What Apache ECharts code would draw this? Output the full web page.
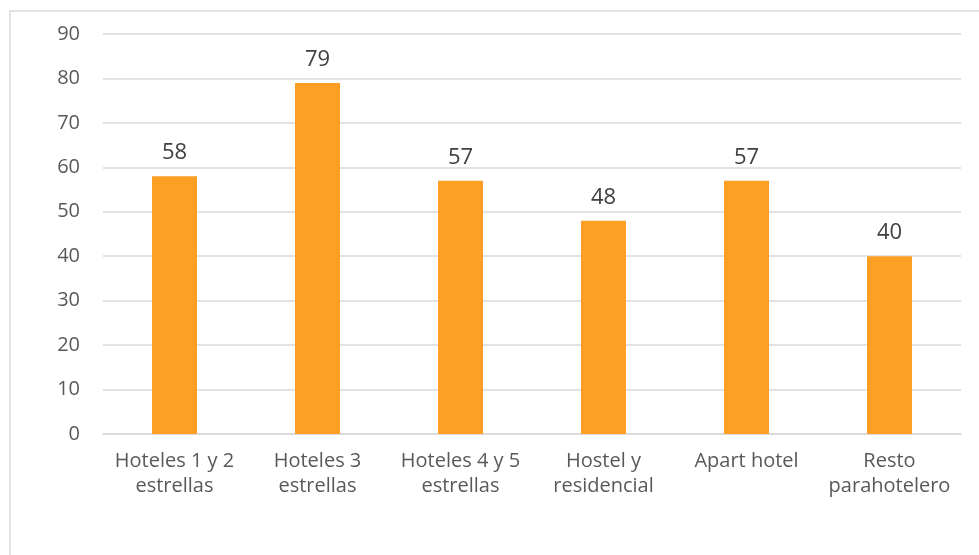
<!DOCTYPE html>
<html>
<head>
<meta charset="utf-8">
<script src="https://cdn.jsdelivr.net/npm/echarts@6/dist/echarts.min.js"></script>
<style>
html,body{margin:0;padding:0;background:#fff;}
#chart{width:979px;height:555px;}
</style>
</head>
<body>
<div id="chart"></div>
<script>
const categories = ["Hoteles 1 y 2\nestrellas", "Hoteles 3\nestrellas", "Hoteles 4 y 5\nestrellas", "Hostel y\nresidencial", "Apart hotel", "Resto\nparahotelero"];
const values = [58, 79, 57, 48, 57, 40];
const yMin = 0, yMax = 90, yStep = 10;

const chart = echarts.init(document.getElementById('chart'));
const font = '"Open Sans", "Noto Sans", sans-serif';
chart.setOption({
  animation: false,
  graphic: [{
    type: 'rect', z: -1,
    shape: { x: 10, y: 11, width: 1200, height: 800 },
    style: { fill: 'none', stroke: '#d9d9d9', lineWidth: 1.5 }
  }],
  grid: { left: 103, right: 18, top: 34, bottom: 121 },
  xAxis: {
    type: 'category',
    data: categories,
    axisLine: { lineStyle: { color: '#d9d9d9', width: 1.5 } },
    axisTick: { show: false },
    axisLabel: { color: '#595959', fontSize: 20, fontFamily: font, margin: 15, lineHeight: 25, interval: 0 }
  },
  yAxis: {
    type: 'value', min: yMin, max: yMax, interval: yStep,
    axisLine: { show: false },
    axisTick: { show: false },
    splitLine: { lineStyle: { color: '#d9d9d9', width: 1.5 } },
    axisLabel: { color: '#595959', fontSize: 20, fontFamily: font, margin: 23 }
  },
  series: [{
    type: 'bar',
    data: values,
    barWidth: 45,
    itemStyle: { color: '#FE9F25' },
    label: { show: true, position: 'top', distance: 12, color: '#404040', fontSize: 22, fontFamily: font }
  }]
});
</script>
</body>
</html>
